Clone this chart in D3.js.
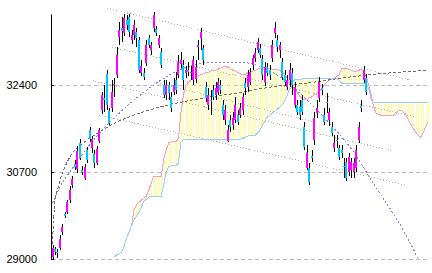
<!DOCTYPE html>
<html>
<head>
<meta charset="utf-8">
<script src="https://cdn.jsdelivr.net/npm/d3@7"></script>
<style>
body { margin: 0; background: #fff; }
svg { display: block; }
.axis text { font-family: "Liberation Sans", Arial, sans-serif; font-size: 11px; fill: #000; }
</style>
</head>
<body>
<script>
// daily candles, oldest first
const opens = [
    29040, 29195, 29135, 29215, 29530, 29880, 29920, 30155, 30445, 30855,
    30760, 31265, 30740, 30585, 31130, 31520, 31170, 31050, 30875, 31305,
    31910, 32145, 32615, 31890, 31950, 32400, 32595, 33340, 33515, 33415,
    33670, 33730, 33280, 33375, 33435, 33280, 32635, 32635, 32830, 33320,
    33085, 33515, 33495, 33180, 33045, 32400, 32205, 32400, 32165, 32265,
    32500, 32595, 32810, 32790, 32635, 32695, 32635, 32500, 32515, 33145,
    33320, 33125, 32360, 32010, 32105, 32300, 32205, 32265, 32400, 32010,
    31715, 31305, 31715, 31620, 31715, 31815, 31815, 31910, 32440, 32360,
    32460, 32790, 32930, 33085, 33125, 32910, 32460, 32750, 32695, 32930,
    33415, 33280, 33085, 32850, 32595, 32360, 32500, 32635, 32010, 32010,
    31970, 32105, 31580, 30780, 30780, 31015, 31325, 31855, 32145, 32340,
    31815, 32070, 31715, 31580, 31170, 31325, 31170, 31130, 30820, 30895,
    30700, 30740, 30700, 30780, 31325, 31990, 32500, 32535
];
const highs = [
    29275, 29235, 29195, 29470, 29685, 29920, 30155, 30425, 30620, 30935,
    31210, 31345, 30815, 30855, 31190, 31580, 31405, 31130, 31210, 31560,
    32265, 32400, 32695, 31950, 32500, 32535, 33145, 33630, 33730, 33785,
    33770, 33785, 33475, 33670, 33515, 33340, 32890, 32730, 33280, 33375,
    33240, 33825, 33555, 33375, 33125, 32500, 32500, 32460, 32265, 32535,
    32655, 32985, 33045, 32890, 32770, 32850, 32770, 32965, 32890, 33280,
    33515, 33180, 32460, 32340, 32300, 32400, 32460, 32535, 32500, 32105,
    32010, 31620, 31815, 31870, 32165, 31910, 32050, 32245, 32535, 32695,
    32730, 32985, 33125, 33320, 33200, 32985, 32850, 32830, 32790, 33280,
    33630, 33375, 33240, 32930, 32695, 32595, 32830, 32730, 32460, 32105,
    32105, 32205, 31675, 31230, 30875, 31130, 31875, 32105, 32555, 32420,
    31950, 32245, 31950, 31675, 31425, 31425, 31230, 31230, 30975, 30975,
    31070, 30975, 30975, 31230, 31675, 32105, 32770, 32615
];
const lows = [
    29000, 29080, 29020, 29175, 29470, 29800, 29880, 30095, 30390, 30740,
    30680, 30935, 30640, 30545, 30875, 31285, 31070, 30780, 30835, 31265,
    31835, 31875, 31910, 31620, 31875, 32165, 32535, 33180, 33240, 33360,
    33475, 33340, 33200, 33280, 33145, 32635, 32575, 32500, 32770, 33125,
    32985, 33435, 33360, 33125, 32730, 32145, 32105, 32105, 31875, 32205,
    32225, 32535, 32730, 32300, 32535, 32575, 32500, 32400, 32440, 32890,
    33085, 32790, 32070, 31910, 31815, 32105, 32105, 32205, 32225, 31715,
    31620, 31285, 31480, 31520, 31660, 31620, 31755, 31815, 32205, 32265,
    32400, 32695, 32850, 33025, 32930, 32500, 32380, 32575, 32500, 32850,
    33320, 33045, 32930, 32500, 32380, 32300, 32360, 32205, 31950, 31815,
    31715, 31815, 31130, 30740, 30445, 30895, 31230, 31755, 32070, 32205,
    31620, 31855, 31600, 31405, 31090, 31170, 30935, 30975, 30585, 30525,
    30620, 30585, 30585, 30700, 31265, 31875, 32440, 32205
];
const closes = [
    29215, 29135, 29115, 29390, 29625, 29840, 30115, 30350, 30565, 30800,
    31110, 30975, 30700, 30800, 30935, 31345, 31345, 30875, 31150, 31520,
    32205, 32105, 32010, 31660, 32265, 32420, 32985, 33475, 33455, 33710,
    33575, 33435, 33375, 33575, 33320, 32695, 32770, 32555, 33180, 33180,
    33180, 33770, 33415, 33320, 32790, 32205, 32400, 32245, 31950, 32400,
    32300, 32850, 32890, 32500, 32695, 32655, 32655, 32890, 32750, 33180,
    33435, 32890, 32145, 32205, 32085, 32165, 32340, 32460, 32300, 31815,
    31910, 31520, 31580, 31755, 32010, 31680, 31950, 32165, 32340, 32595,
    32655, 32930, 33025, 33240, 32985, 32595, 32750, 32635, 32595, 33180,
    33515, 33145, 33180, 32555, 32460, 32500, 32695, 32400, 32360, 31875,
    31815, 31875, 31190, 31070, 30505, 30975, 31755, 31950, 32460, 32300,
    31675, 32050, 31875, 31460, 31265, 31305, 30995, 31070, 30800, 30585,
    30995, 30895, 30875, 31130, 31580, 31950, 32695, 32265
];

// leading spans (cloud), first value sits at bar index spanStart
const spanStart = 25;
const spanA = [
    29040, 29080, 29100, 29140, 29250, 29410, 29530, 29650, 29960, 30060,
    30110, 30150, 30190, 30230, 30350, 30490, 30620, 30620, 30620, 30620,
    30940, 31130, 31270, 31290, 31290, 31290, 31360, 31870, 32210, 32400,
    32460, 32500, 32540, 32560, 32580, 32600, 32620, 32640, 32650, 32670,
    32690, 32690, 32710, 32730, 32750, 32770, 32750, 32730, 32690, 32670,
    32650, 32620, 32600, 32600, 32640, 32650, 32670, 32690, 32710, 32730,
    32710, 32710, 32730, 32730, 32710, 32710, 32710, 32690, 32650, 32620,
    32540, 32420, 32340, 32300, 32260, 32190, 32130, 32110, 32110, 32150,
    32170, 32210, 32240, 32280, 32340, 32400, 32460, 32500, 32520, 32540,
    32560, 32600, 32730, 32730, 32730, 32710, 32690, 32670, 32670, 32690,
    32710, 32670, 32560, 32400, 32210, 31970, 31850, 31830, 31810, 31810,
    31810, 31810, 31810, 31810, 31830, 31910, 31910, 31870, 31830, 31720,
    31640, 31560, 31480, 31420, 31380, 31460, 31580, 31680
];
const spanB = [
    29040, 29080, 29100, 29140, 29250, 29410, 29530, 29650, 29760, 29840,
    29920, 30020, 30130, 30170, 30210, 30230, 30230, 30230, 30230, 30230,
    30450, 30700, 30800, 30820, 30820, 30820, 30880, 31290, 31340, 31340,
    31340, 31340, 31340, 31340, 31340, 31340, 31340, 31340, 31340, 31340,
    31340, 31340, 31340, 31340, 31340, 31340, 31340, 31340, 31340, 31340,
    31340, 31340, 31360, 31380, 31400, 31420, 31420, 31420, 31460, 31520,
    31620, 31700, 31780, 31810, 31850, 31890, 31930, 31970, 32010, 32090,
    32190, 32340, 32460, 32500, 32500, 32500, 32520, 32520, 32520, 32520,
    32520, 32520, 32520, 32520, 32520, 32520, 32520, 32520, 32520, 32520,
    32520, 32500, 32440, 32440, 32440, 32440, 32440, 32440, 32440, 32440,
    32440, 32440, 32420, 32340, 32110, 32050, 32050, 32050, 32050, 32050,
    32050, 32050, 32050, 32050, 32050, 32050, 32050, 32050, 32050, 32050,
    32050, 32050, 32050, 32050, 32050, 32050, 32050, 32050
];

const yTicks = [29000, 30700, 32400];

// [bar index, price] samples of the two fitted curves
const quadCurve = [
    [0, 30090], [3, 30410], [7, 30700], [11, 30970], [15, 31230], [19, 31460],
    [27, 31850], [37, 32260], [44, 32500], [53, 32730], [64, 32850], [75, 32850],
    [85, 32750], [95, 32460], [103, 32110], [112, 31660], [121, 31150],
    [131, 30390], [141, 29645], [147, 29100], [151, 28670]
];
const logCurve = [
    [0, 29300], [1, 30150], [2, 30350], [4, 30680], [6, 30900], [9, 31130],
    [12, 31250], [15, 31365], [19, 31480], [23, 31600], [33, 31815], [45, 31990],
    [61, 32145], [75, 32245], [88, 32360], [103, 32440], [120, 32555],
    [136, 32635], [152, 32690]
];

// trend lines: [index0, price0, index1, price1]
const trendLines = [
    [22, 33905, 145, 32500],
    [24, 33145, 147, 31775],
    [41, 32460, 106, 31675],
    [15, 32500, 138, 31110],
    [19, 31815, 143, 30445]
];

class CloudChart {
    constructor(options) {
        this.width = options.width;
        this.height = options.height;
        this.left = 51;
        this.bottom = 259;
    }

    run() {
        this.svg = d3.select("body").append("svg")
            .attr("width", this.width)
            .attr("height", this.height);

        this.x = d3.scaleLinear().domain([0, 152]).range([52.5, 428]);
        this.y = d3.scaleLinear().domain([29000, 33790]).range([259, 14]);

        this.svg.append("clipPath")
            .attr("id", "plot")
            .append("rect")
            .attr("x", this.left + 1)
            .attr("y", 0)
            .attr("width", this.width - this.left - 1)
            .attr("height", this.bottom + 0.5);

        this.drawGrid();

        let plot = this.svg.append("g")
            .attr("clip-path", "url(#plot)")
            .attr("shape-rendering", "crispEdges");
        this.drawCloud(plot);
        this.drawLines(plot);
        this.drawCandles(plot);

        this.drawAxis();
    }

    drawGrid() {
        this.svg.append("g")
            .attr("shape-rendering", "crispEdges")
            .selectAll("line")
            .data(yTicks)
            .join("line")
            .attr("x1", this.left + 1)
            .attr("x2", 428)
            .attr("y1", d => Math.round(this.y(d)) + 0.5)
            .attr("y2", d => Math.round(this.y(d)) + 0.5)
            .attr("stroke", "#bdbdbd")
            .attr("stroke-dasharray", "4,3");
    }

    drawCloud(g) {
        let spans = spanA.map((a, k) => ({ i: spanStart + k, a: a, b: spanB[k] }));

        g.append("g")
            .selectAll("line")
            .data(spans)
            .join("line")
            .attr("x1", d => Math.round(this.x(d.i)) + 0.5)
            .attr("x2", d => Math.round(this.x(d.i)) + 0.5)
            .attr("y1", d => this.y(d.a))
            .attr("y2", d => this.y(d.b))
            .attr("stroke", "#ffff99");

        let lineA = d3.line().x(d => this.x(d.i)).y(d => this.y(d.a));
        let lineB = d3.line().x(d => this.x(d.i)).y(d => this.y(d.b));

        g.append("path")
            .attr("d", lineA(spans))
            .attr("fill", "none")
            .attr("stroke", "#ff99cc");

        g.append("path")
            .attr("d", lineB(spans))
            .attr("fill", "none")
            .attr("stroke", "#99ccff");
    }

    drawLines(g) {
        g.append("g")
            .selectAll("line")
            .data(trendLines)
            .join("line")
            .attr("x1", d => this.x(d[0]))
            .attr("y1", d => this.y(d[1]))
            .attr("x2", d => this.x(d[2]))
            .attr("y2", d => this.y(d[3]))
            .attr("stroke", "#b4b4b4")
            .attr("stroke-dasharray", "1,2");

        let curve = d3.line()
            .x(d => this.x(d[0]))
            .y(d => this.y(d[1]))
            .curve(d3.curveMonotoneX);

        g.append("path")
            .attr("d", curve(logCurve))
            .attr("fill", "none")
            .attr("stroke", "#6e6e6e")
            .attr("stroke-dasharray", "3,2");

        g.append("path")
            .attr("d", curve(quadCurve))
            .attr("fill", "none")
            .attr("stroke", "#8080ff")
            .attr("stroke-dasharray", "2,2");
    }

    drawCandles(g) {
        let bars = opens.map((o, i) => ({ i: i, o: o, h: highs[i], l: lows[i], c: closes[i] }));

        let candle = g.append("g")
            .selectAll("g")
            .data(bars)
            .join("g");

        candle.append("line")
            .attr("x1", d => Math.round(this.x(d.i)) + 0.5)
            .attr("x2", d => Math.round(this.x(d.i)) + 0.5)
            .attr("y1", d => this.y(d.h))
            .attr("y2", d => this.y(d.l))
            .attr("stroke", "#000");

        candle.append("rect")
            .attr("x", d => Math.round(this.x(d.i)) - 1)
            .attr("width", 2)
            .attr("y", d => this.y(Math.max(d.o, d.c)))
            .attr("height", d => Math.max(1, Math.abs(this.y(d.o) - this.y(d.c))))
            .attr("fill", d => d.c >= d.o ? "#ff00ff" : "#00c8ff");
    }

    drawAxis() {
        let axis = d3.axisLeft(this.y)
            .tickValues(yTicks)
            .tickFormat(d3.format("d"))
            .tickSizeInner(-3)
            .tickSizeOuter(0)
            .tickPadding(14);

        this.svg.append("g")
            .attr("class", "axis")
            .attr("transform", `translate(${this.left},0)`)
            .call(axis)
            .call(g => g.selectAll("path, line").attr("stroke", "#000"));
    }
};

document.addEventListener("DOMContentLoaded", () => {
    const chart = new CloudChart({
        width: 432,
        height: 273
    });

    chart.run();
});
</script>
</body>
</html>
